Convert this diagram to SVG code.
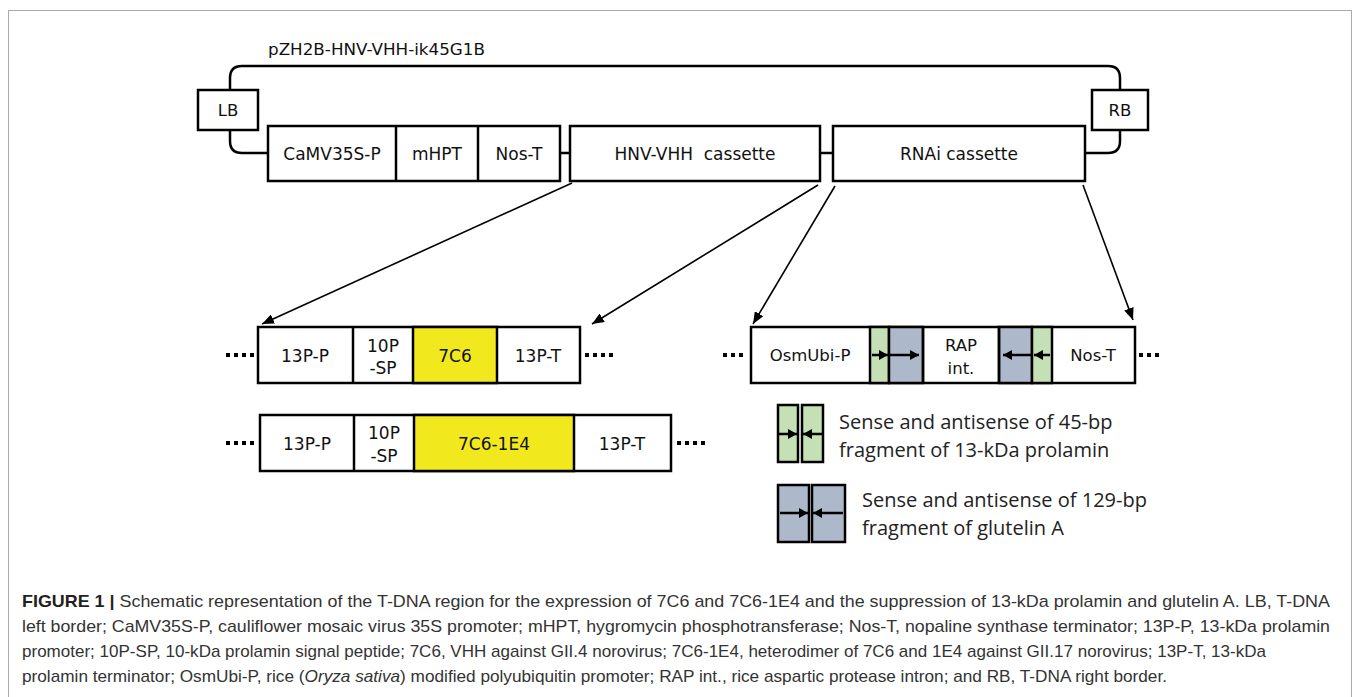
<svg xmlns="http://www.w3.org/2000/svg" width="1354" height="697" viewBox="0 0 1354 697">
<style>
.box{fill:#fff;stroke:#000;stroke-width:2.5}
.ln{fill:none;stroke:#000;stroke-width:2.5}
.div{stroke:#000;stroke-width:2.5}
.lbl{font-family:"DejaVu Sans",Verdana,sans-serif;font-size:17px;fill:#111;text-anchor:middle}
.lbl2{font-family:"DejaVu Sans",Verdana,sans-serif;font-size:16.5px;fill:#111;text-anchor:middle}
.dots{stroke:#000;stroke-width:4;stroke-dasharray:4 4}
.con{fill:none;stroke:#000;stroke-width:1.6}
.grn{fill:#c5e0b4;stroke:#000;stroke-width:2.5}
.blu{fill:#adb9ca;stroke:#000;stroke-width:2.5}
.iar{stroke:#000;stroke-width:2.5}
.leg{font-family:"Open Sans","Noto Sans",sans-serif;font-size:20px;fill:#222}
.cap{font-family:"Liberation Sans",Arial,sans-serif;font-size:17px;fill:#333}
</style>
<defs>
<marker id="ah" viewBox="0 0 12 10" refX="12" refY="5" markerWidth="12" markerHeight="10" markerUnits="userSpaceOnUse" orient="auto">
<path d="M0,0 L12,5 L0,10 Z" fill="#000"/>
</marker>
<marker id="sh" viewBox="0 0 9 10" refX="9" refY="5" markerWidth="9" markerHeight="10" markerUnits="userSpaceOnUse" orient="auto">
<path d="M0,0 L9,5 L0,10 Z" fill="#000"/>
</marker>
</defs>
<rect x="8.5" y="10.5" width="1343" height="720" fill="none" stroke="#aaa" stroke-width="1"/>

<text x="268" y="55" font-family="DejaVu Sans,Verdana,sans-serif" font-size="15.5" fill="#111" textLength="217" lengthAdjust="spacingAndGlyphs">pZH2B-HNV-VHH-ik45G1B</text>

<g id="backbone">
<path class="ln" d="M230 90 V78 Q230 66 242 66 H1108 Q1120 66 1120 78 V90"/>
<path class="ln" d="M230 130 V141 Q230 153 242 153 H268"/>
<path class="ln" d="M1085 153 H1108 Q1120 153 1120 141 V130"/>
<path class="ln" d="M560 153 H570 M820 153 H833"/>
</g>

<g id="LB"><rect class="box" x="198" y="90" width="60" height="40"/><text class="lbl2" x="228" y="116" font-size="15">LB</text></g>
<g id="RB"><rect class="box" x="1092" y="90" width="56" height="40"/><text class="lbl2" x="1120" y="116" font-size="15">RB</text></g>

<g id="selection">
<rect class="box" x="268" y="126" width="292" height="55"/>
<line class="div" x1="396" y1="126" x2="396" y2="181"/>
<line class="div" x1="478" y1="126" x2="478" y2="181"/>
<text class="lbl" x="332" y="160">CaMV35S-P</text>
<text class="lbl" x="437" y="160">mHPT</text>
<text class="lbl" x="519" y="160">Nos-T</text>
</g>

<g id="hnv"><rect class="box" x="570" y="126" width="250" height="55"/><text class="lbl" x="695" y="160" style="white-space:pre">HNV-VHH  cassette</text></g>
<g id="rnai"><rect class="box" x="833" y="126" width="252" height="55"/><text class="lbl" x="959" y="160">RNAi cassette</text></g>

<g id="connectors">
<line class="con" x1="572" y1="183" x2="262" y2="324" marker-end="url(#ah)"/>
<line class="con" x1="818" y1="185" x2="592" y2="324" marker-end="url(#ah)"/>
<line class="con" x1="835" y1="186" x2="753" y2="324" marker-end="url(#ah)"/>
<line class="con" x1="1083" y1="185" x2="1133" y2="320" marker-end="url(#ah)"/>
</g>

<g id="row1">
<line class="dots" x1="226" y1="355" x2="256" y2="355"/>
<rect class="box" x="258" y="327" width="322" height="56"/>
<rect x="413" y="327" width="84" height="56" fill="#f2e81e" stroke="#000" stroke-width="2.5"/>
<line class="div" x1="353" y1="327" x2="353" y2="383"/>
<text class="lbl" x="305" y="362">13P-P</text>
<text class="lbl" x="383" y="352">10P</text>
<text class="lbl" x="383" y="374">-SP</text>
<text class="lbl" x="455" y="362">7C6</text>
<text class="lbl" x="538" y="362">13P-T</text>
<line class="dots" x1="585" y1="355" x2="615" y2="355"/>
</g>

<g id="row2">
<line class="dots" x1="226" y1="443" x2="256" y2="443"/>
<rect class="box" x="260" y="415" width="411" height="56"/>
<rect x="414" y="415" width="160" height="56" fill="#f2e81e" stroke="#000" stroke-width="2.5"/>
<line class="div" x1="354" y1="415" x2="354" y2="471"/>
<text class="lbl" x="307" y="450">13P-P</text>
<text class="lbl" x="384" y="439">10P</text>
<text class="lbl" x="384" y="462">-SP</text>
<text class="lbl" x="494" y="450">7C6-1E4</text>
<text class="lbl" x="622" y="450">13P-T</text>
<line class="dots" x1="677" y1="443" x2="707" y2="443"/>
</g>

<g id="rnai-detail">
<line class="dots" x1="723" y1="355" x2="747" y2="355"/>
<rect class="box" x="751" y="327" width="384" height="56"/>
<rect class="grn" x="870" y="327" width="19" height="56"/>
<rect class="blu" x="889" y="327" width="34" height="56"/>
<rect class="blu" x="999" y="327" width="33" height="56"/>
<rect class="grn" x="1032" y="327" width="20" height="56"/>
<line class="div" x1="923" y1="327" x2="923" y2="383" stroke-width="3.5"/>
<line class="div" x1="999" y1="327" x2="999" y2="383" stroke-width="3.5"/>
<line class="iar" x1="872" y1="355" x2="888" y2="355" marker-end="url(#sh)"/>
<line class="iar" x1="890" y1="355" x2="919" y2="355" marker-end="url(#sh)"/>
<line class="iar" x1="1050" y1="355" x2="1034" y2="355" marker-end="url(#sh)"/>
<line class="iar" x1="1031" y1="355" x2="1003" y2="355" marker-end="url(#sh)"/>
<text class="lbl2" x="810" y="361">OsmUbi-P</text>
<text class="lbl2" x="961" y="351">RAP</text>
<text class="lbl2" x="961" y="374">int.</text>
<text class="lbl2" x="1093" y="361">Nos-T</text>
<line class="dots" x1="1139" y1="355" x2="1163" y2="355"/>
</g>

<g id="legend-green">
<rect class="grn" x="778" y="405" width="20" height="57"/>
<rect class="grn" x="802" y="405" width="21" height="57"/>
<line class="iar" x1="779" y1="434" x2="797" y2="434" marker-end="url(#sh)"/>
<line class="iar" x1="822" y1="434" x2="803" y2="434" marker-end="url(#sh)"/>
<text class="leg" x="839" y="429">Sense and antisense of 45-bp</text>
<text class="leg" x="839" y="457">fragment of 13-kDa prolamin</text>
</g>

<g id="legend-blue">
<rect class="blu" x="778" y="485" width="31" height="57"/>
<rect class="blu" x="812" y="485" width="33" height="57"/>
<line class="iar" x1="780" y1="513" x2="808" y2="513" marker-end="url(#sh)"/>
<line class="iar" x1="843" y1="513" x2="813" y2="513" marker-end="url(#sh)"/>
<text class="leg" x="862" y="507">Sense and antisense of 129-bp</text>
<text class="leg" x="862" y="535">fragment of glutelin A</text>
</g>

<g id="caption">
<text class="cap" x="22" y="607" textLength="1308" lengthAdjust="spacingAndGlyphs"><tspan font-weight="bold" fill="#231f20">FIGURE 1 | </tspan>Schematic representation of the T-DNA region for the expression of 7C6 and 7C6-1E4 and the suppression of 13-kDa prolamin and glutelin A. LB, T-DNA</text>
<text class="cap" x="22" y="632" textLength="1308" lengthAdjust="spacingAndGlyphs">left border; CaMV35S-P, cauliflower mosaic virus 35S promoter; mHPT, hygromycin phosphotransferase; Nos-T, nopaline synthase terminator; 13P-P, 13-kDa prolamin</text>
<text class="cap" x="22" y="657" textLength="1244" lengthAdjust="spacingAndGlyphs">promoter; 10P-SP, 10-kDa prolamin signal peptide; 7C6, VHH against GII.4 norovirus; 7C6-1E4, heterodimer of 7C6 and 1E4 against GII.17 norovirus; 13P-T, 13-kDa</text>
<text class="cap" x="22" y="682" textLength="1145" lengthAdjust="spacingAndGlyphs">prolamin terminator; OsmUbi-P, rice (<tspan font-style="italic">Oryza sativa</tspan>) modified polyubiquitin promoter; RAP int., rice aspartic protease intron; and RB, T-DNA right border.</text>
</g>
</svg>
